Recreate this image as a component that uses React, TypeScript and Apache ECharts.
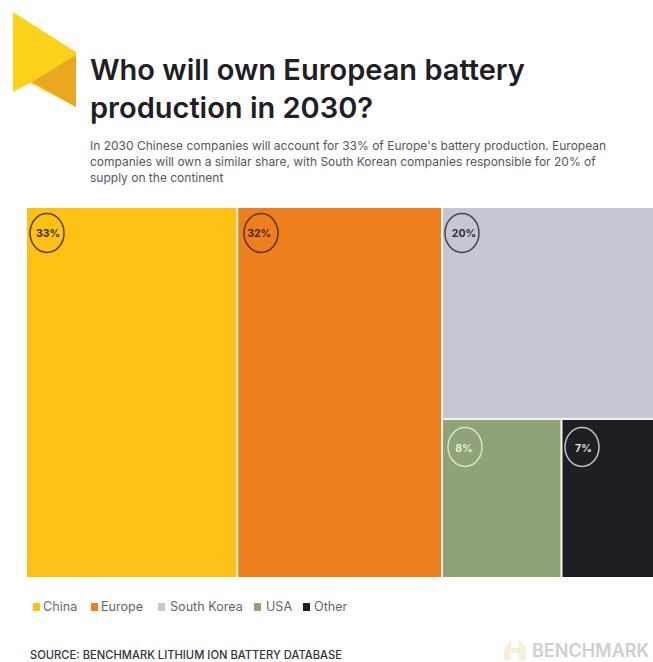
import React, { useEffect, useRef } from "react";
import * as echarts from "echarts";

const FONT = "Inter, 'Open Sans', sans-serif";

const categories = ["China", "Europe", "South Korea", "USA", "Other"];
const shares = [33, 32, 20, 8, 7];
const colours = ["#FDC116", "#EE7F1F", "#C5C7D2", "#8FA377", "#1E1F24"];
const badgeInk = ["#3a2c05", "#4a2408", "#2b2d3a", "#e6efd8", "#dcdcdc"];
const headline = "Who will own European battery\nproduction in 2030?";
const intro = [
  "In 2030 Chinese companies will account for 33% of Europe's battery production. European",
  "companies will own a similar share, with South Korean companies responsible for 20% of",
  "supply on the continent",
];
const sourceNote = "SOURCE: BENCHMARK LITHIUM ION BATTERY DATABASE";

function leaf(i: number, topRow: boolean) {
  return {
    name: categories[i],
    value: shares[i],
    itemStyle: { color: colours[i] },
    label: {
      show: true,
      position: [21, topRow ? 25 : 28],
      align: "center",
      verticalAlign: "middle",
      formatter: `${shares[i]}%`,
      color: badgeInk[i],
      fontFamily: FONT,
      fontSize: 10.5,
      fontWeight: 700,
    },
  };
}

// The right-hand block nests South Korea above the smaller USA / Other pair.
const treeData = [
  leaf(0, true),
  leaf(1, true),
  {
    name: "Rest",
    children: [
      leaf(2, true),
      { name: "Small", children: [leaf(3, false), leaf(4, false)] },
    ],
  },
];

const badgeCentres = [
  [47, 233],
  [261, 233],
  [462, 233],
  [465, 447],
  [582, 447],
];

const legendMarks = [33, 91, 158, 254, 303];
const legendTexts = [43, 101, 170, 266, 314];

export default function App() {
  const ref = useRef<HTMLDivElement>(null);

  useEffect(() => {
    const chart = echarts.init(ref.current!, undefined, { renderer: "svg" });
    const graphics: any[] = [
      // Pennant emblem beside the headline
      {
        type: "polygon",
        shape: { points: [[13, 12], [76, 52], [76, 107], [30, 83], [13, 92]] },
        style: { fill: "#FCD21C" },
      },
      {
        type: "polygon",
        shape: { points: [[76, 55], [76, 107], [32, 82]] },
        style: { fill: "#E9A81F" },
      },
      ...intro.map((line, i) => ({
        type: "text",
        x: 90,
        y: 139 + i * 16,
        style: { text: line, fontFamily: FONT, fontSize: 12, fill: "#55565c" },
      })),
      ...badgeCentres.map(([cx, cy], i) => ({
        type: "ellipse",
        z: 20,
        shape: { cx, cy, rx: 17, ry: 19.5 },
        style: { fill: "none", stroke: badgeInk[i], lineWidth: 1.5, opacity: 0.85 },
      })),
      ...categories.flatMap((name, i) => [
        {
          type: "rect",
          shape: { x: legendMarks[i], y: 603, width: 7, height: 8 },
          style: { fill: colours[i] },
        },
        {
          type: "text",
          x: legendTexts[i],
          y: 600,
          style: { text: name, fontFamily: FONT, fontSize: 12.6, fill: "#66676c" },
        },
      ]),
      {
        type: "text",
        x: 30,
        y: 649,
        style: { text: sourceNote, fontFamily: FONT, fontSize: 11.2, fontWeight: 500, fill: "#33343a" },
      },
      {
        type: "text",
        x: 532,
        y: 641,
        style: { text: "BENCHMARK", fontFamily: FONT, fontSize: 18, fontWeight: 600, fill: "#cfcfd2" },
      },
      // Faint company mark next to the wordmark
      {
        type: "polygon",
        shape: { points: [[504, 648], [511, 640], [511, 660], [504, 660]] },
        style: { fill: "#f9eed6" },
      },
      {
        type: "polygon",
        shape: { points: [[519, 640], [526, 648], [526, 660], [519, 660]] },
        style: { fill: "#f9eed6" },
      },
      {
        type: "rect",
        shape: { x: 511, y: 648, width: 8, height: 5 },
        style: { fill: "#f9eed6" },
      },
    ];

    chart.setOption({
      animation: false,
      backgroundColor: "#ffffff",
      title: {
        text: headline,
        left: 90,
        top: 50,
        padding: 0,
        textStyle: {
          fontFamily: FONT,
          fontSize: 29,
          fontWeight: 600,
          color: "#1f2024",
          lineHeight: 38,
        },
      },
      graphic: graphics,
      series: [
        {
          type: "treemap",
          left: 27,
          top: 208,
          width: 638,
          height: 369,
          roam: false,
          nodeClick: false,
          silent: true,
          breadcrumb: { show: false },
          sort: false,
          squareRatio: 1,
          upperLabel: { show: false },
          itemStyle: { borderWidth: 0, gapWidth: 0 },
          levels: [
            { itemStyle: { borderWidth: 0, gapWidth: 2, borderColor: "#f4f4ee" } },
            { itemStyle: { borderWidth: 0, gapWidth: 2, borderColor: "#f4f4ee" } },
            { itemStyle: { borderWidth: 0, gapWidth: 2, borderColor: "#f4f4ee" } },
          ],
          data: treeData,
        },
      ],
    });
    return () => chart.dispose();
  }, []);

  return (
    <div
      ref={ref}
      style={{ position: "absolute", left: 0, top: 0, width: 653, height: 662 }}
    />
  );
}
